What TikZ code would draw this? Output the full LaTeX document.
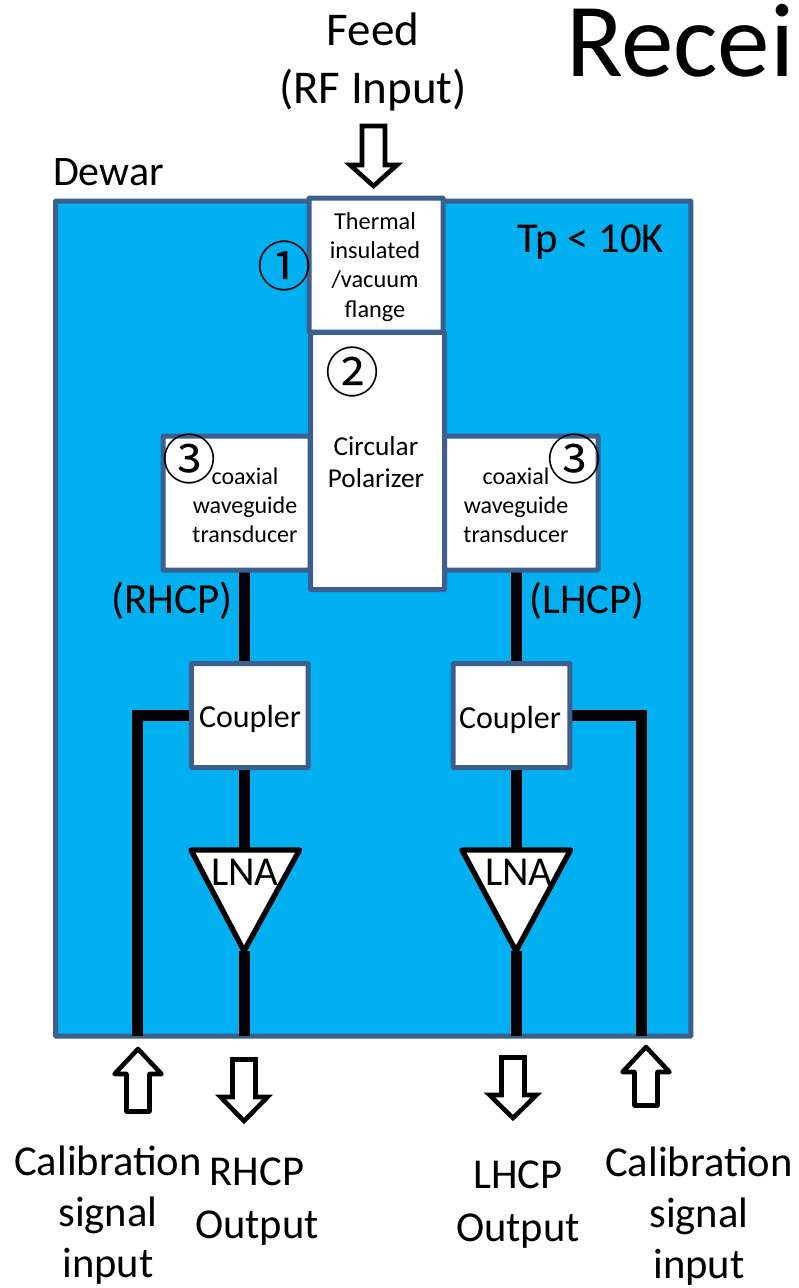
\documentclass[tikz,border=0pt]{standalone}
\usepackage{fontspec}
\setmainfont{Carlito}
\newfontfamily\symf{Noto Sans CJK JP}
\newcommand{\fpx}[1]{\fontsize{\the\dimexpr#1pt*3/4\relax}{\the\dimexpr#1pt*3/4*6/5\relax}\selectfont}
\definecolor{dewarblue}{HTML}{00B0F0}
\definecolor{edgeblue}{HTML}{3B5F8F}
\pgfdeclarelayer{back}
\pgfsetlayers{back,main}
\tikzset{
  box/.style={draw=edgeblue,fill=white,line width=3.75pt,rounded corners=0.5pt,inner sep=0pt,outer sep=0pt,align=center,text=black},
  wire/.style={draw=black,line width=8.25pt},
  label/.style={inner sep=0pt,outer sep=0pt,align=center,text=black},
  blockarrow/.style={draw=black,fill=white,line width=3.4pt,miter limit=10},
  uparrow/.style={blockarrow,line join=round},
  amp/.style={draw=black,fill=white,line width=4pt,line join=round},
}
% style, cx, shaft end, head base, tip
\newcommand{\blockarrow}[5]{\draw[#1] (#2-11.5,#3) -- (#2+11.5,#3) -- (#2+11.5,#4) -- (#2+23.5,#4) -- (#2,#5) -- (#2-23.5,#4) -- (#2-11.5,#4) -- cycle;}
\begin{document}
\begin{tikzpicture}[x=0.75pt,y=-0.75pt]
\useasboundingbox (0,0) rectangle (799,1288);

\coordinate (lbus) at (244,0);
\coordinate (rbus) at (516,0);
\coordinate (lcal) at (137.5,715.5);
\coordinate (rcal) at (641,715.5);
\coordinate (llnatop) at (244,850);
\coordinate (llnatip) at (244,951);
\coordinate (rlnatop) at (516,850);
\coordinate (rlnatip) at (516,951);

\begin{pgfonlayer}{back}
\fill[white] (0,0) rectangle (799,1288);
\node[box,fill=dewarblue,minimum width=476.6pt,minimum height=626.25pt,anchor=north west] (dewar) at (55.5,201) {};
\end{pgfonlayer}

\node[box,minimum width=110.25pt,minimum height=100.5pt] (ltrans) at (236.5,503) {};
\node[box,minimum width=116.25pt,minimum height=100.5pt] (rtrans) at (520.5,503) {};
\node[box,minimum width=100.5pt,minimum height=193pt] (polar) at (377.5,461) {};
\node[box,minimum width=100.5pt,minimum height=100.5pt] (flange) at (376,265) {};
\node[box,minimum width=87.4pt,minimum height=78pt] (lcoup) at (249.75,715.5) {};
\node[box,minimum width=87.4pt,minimum height=78pt] (rcoup) at (511.5,715.5) {};

\begin{pgfonlayer}{back}
\draw[wire] (lbus |- ltrans.south) -- (lbus |- lcoup.north);
\draw[wire] (lbus |- lcoup.south) -- (llnatop);
\draw[wire] (llnatip) -- (lbus |- dewar.south);
\draw[wire] (rbus |- rtrans.south) -- (rbus |- rcoup.north);
\draw[wire] (rbus |- rcoup.south) -- (rlnatop);
\draw[wire] (rlnatip) -- (rbus |- dewar.south);
\draw[wire] (lcal |- dewar.south) -- (lcal) -- (lcoup.west |- lcal);
\draw[wire] (rcal |- dewar.south) -- (rcal) -- (rcoup.east |- rcal);
\end{pgfonlayer}

\draw[amp] (191,850) -- (299.5,850) -- (llnatip) -- cycle;
\draw[amp] (462,850) -- (570.5,850) -- (rlnatip) -- cycle;
\node[label,font=\fpx{41}] (llna) at (245,872) {LNA};
\node[label,font=\fpx{41}] (rlna) at (519,872) {LNA};

\node[label,font=\fpx{24.3}] (flanget) at (375,267) {Thermal\\insulated\\/vacuum\\flange};
\node[label,font=\fpx{32}] (coupl) at (250,719) {Coupler};
\node[label,font=\fpx{32}] (coupr) at (510,720) {Coupler};
\node[label,font=\fpx{27.3}] (polart) at (376,462) {Circular\\Polarizer};
\node[label,font=\fpx{24}] (ltranst) at (245,505) {coaxial\\waveguide\\transducer};
\node[label,font=\fpx{24}] (rtranst) at (516,505) {coaxial\\waveguide\\transducer};

\node[label,font=\fpx{42.6}] (tp) at (591,242) {Tp < 10K};
\node[label,font=\fpx{43}] (rhcp) at (172,601) {(RHCP)};
\node[label,font=\fpx{42.5}] (lhcp) at (587,601) {(LHCP)};
\node[label,font=\fpx{42},anchor=west] (dew) at (53,172) {Dewar};

\node[label,font=\symf\fpx{54}] (n1) at (284,266) {①};
\node[label,font=\symf\fpx{54}] (n2) at (352,372) {②};
\node[label,font=\symf\fpx{54}] (n3l) at (189,459) {③};
\node[label,font=\symf\fpx{54}] (n3r) at (574,459) {③};

\node[label,font=\fpx{47}] (feed) at (373,62) {Feed\\[1.5pt](RF Input)};
\node[label,font=\fpx{105},anchor=base west] (title) at (566,77) {Recei};

\blockarrow{blockarrow}{373.5}{126}{165}{186}
\blockarrow{blockarrow}{244}{1059.5}{1097}{1121}
\blockarrow{blockarrow}{513}{1057.5}{1095}{1118}
\blockarrow{uparrow}{138}{1111.5}{1074}{1049}
\blockarrow{uparrow}{646}{1105.5}{1072}{1047}

\node[label,font=\fpx{42.6}] (call) at (108,1215) {Calibration\\signal\\input};
\node[label,font=\fpx{42.6}] (calr) at (699,1216) {Calibration\\signal\\input};
\node[label,font=\fpx{42.6}] (rout) at (257,1202) {RHCP\\[1.5pt]Output};
\node[label,font=\fpx{42.6}] (lout) at (518,1205) {LHCP\\[1.5pt]Output};
\end{tikzpicture}
\end{document}
